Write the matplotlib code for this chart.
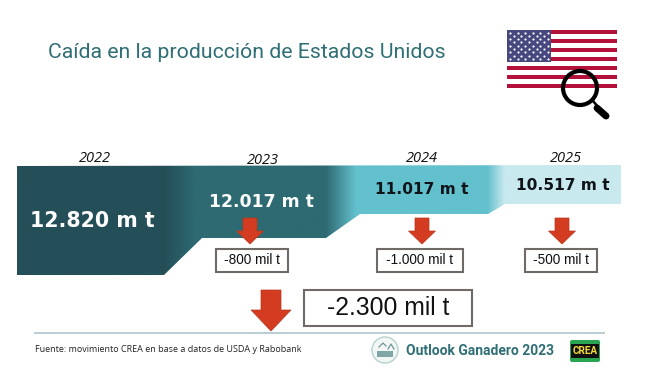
import numpy as np
import matplotlib
matplotlib.use("Agg")
import matplotlib.pyplot as plt
from matplotlib.colors import to_rgb
from matplotlib.patches import Polygon, Rectangle, Circle, FancyBboxPatch

# --- content ---
title = "Caída en la producción de Estados Unidos"
years = ["2022", "2023", "2024", "2025"]
production = ["12.820 m t", "12.017 m t", "11.017 m t", "10.517 m t"]
changes = ["-800 mil t", "-1.000 mil t", "-500 mil t"]
total_change = "-2.300 mil t"
source = "Fuente: movimiento CREA en base a datos de USDA y Rabobank"
brand = "Outlook Ganadero 2023"
logo = "CREA"

# --- layout (pixels of the infographic) ---
W, H = 658, 385
TEAL = "#2f6f75"
RED = "#d33c20"
year_xy = [(95, 158), (263, 160), (422, 159), (566, 159)]
prod_xy = [(92, 221), (261, 202), (422, 190), (563, 185)]
prod_col = ["white", "white", "#101418", "#101418"]
prod_size = [14.8, 12.4, 11.1, 11.1]
band_outline = [(17, 166), (621, 165), (621, 204), (505, 204), (488, 214), (360, 214),
                (326, 238), (202, 238), (164, 275), (17, 275)]
grad_stops = [(17, "#254f58"), (165, "#254f58"), (195, "#2e6a72"), (326, "#2e6a72"),
              (356, "#63c0cd"), (488, "#63c0cd"), (505, "#c8e9ed"), (621, "#c8e9ed")]
small_arrows = [250, 422, 562]
box_spans = [(216, 288), (377, 463), (525, 597)]

fig = plt.figure(figsize=(W / 100, H / 100), dpi=100, facecolor="white")
ax = fig.add_axes([0, 0, 1, 1])
ax.axis("off")

# Gradient band clipped to the stepped outline
xs = np.arange(17, 622)
px = [s[0] for s in grad_stops]
rgb = np.array([to_rgb(s[1]) for s in grad_stops])
grad = np.stack([np.interp(xs, px, rgb[:, i]) for i in range(3)], axis=1)[None, :, :]
im = ax.imshow(grad, extent=(17, 621, 276, 165), aspect="auto", interpolation="bilinear", zorder=1)
clip = Polygon(band_outline, closed=True, transform=ax.transData, fc="none", ec="none")
ax.add_patch(clip)
im.set_clip_path(clip)


def arrow(cx, top, neck, tip, half_shaft, half_head):
    pts = [(cx - half_shaft, top), (cx + half_shaft, top), (cx + half_shaft, neck),
           (cx + half_head, neck), (cx, tip), (cx - half_head, neck), (cx - half_shaft, neck)]
    ax.add_patch(Polygon(pts, closed=True, fc=RED, ec="#b8361d", lw=0.5, zorder=3))


def box(x0, x1, y0, y1, lw):
    ax.add_patch(Rectangle((x0, y0), x1 - x0, y1 - y0, fc="white", ec="#6f6a66", lw=lw, zorder=3))


# Title
ax.text(48, 53, title, fontsize=15.3, color=TEAL, family="Roboto", va="center", ha="left", zorder=5)

# Years and production labels
for yr, (x, y) in zip(years, year_xy):
    ax.text(x, y, yr, fontsize=10.5, style="italic", family="Open Sans", color="#111111",
            ha="center", va="center", zorder=5)
for lab, (x, y), c, s in zip(production, prod_xy, prod_col, prod_size):
    ax.text(x, y, lab, fontsize=s, weight="bold", family="DejaVu Sans", color=c,
            ha="center", va="center", zorder=5)

# Yearly changes
for cx, (x0, x1), lab in zip(small_arrows, box_spans, changes):
    arrow(cx, 218, 231, 244, 7, 13.5)
    box(x0, x1, 249, 272, 1.5)
    ax.text((x0 + x1) / 2, 260.5, lab, fontsize=9.8, family="Liberation Sans", color="#111111",
            ha="center", va="center", zorder=5)

# Total change
arrow(271, 290, 310, 331, 10, 20)
box(304, 472, 290, 326, 1.5)
ax.text(388, 308, total_change, fontsize=17.8, family="Liberation Sans", color="#111111",
        ha="center", va="center", zorder=5)

# Footer
ax.plot([35, 604], [332.5, 332.5], color="#b9ced3", lw=1.4, zorder=2)
ax.text(35, 349, source, fontsize=6.45, family="Open Sans", color="#222222", ha="left", va="center", zorder=5)
ax.add_patch(Circle((385, 350), 13, fc="#f2f7f6", ec="#b5d2cd", lw=1.0, zorder=3))
ax.add_patch(Rectangle((377, 351), 16, 6, fc="#7fa7a6", ec="none", zorder=4))
ax.plot([379, 383, 386], [347, 343, 346], color="#6f9695", lw=0.9, zorder=4)
ax.plot([388, 391, 394], [349, 344, 349], color="#6f9695", lw=0.9, zorder=4)
ax.text(406, 351, brand, fontsize=10.0, weight="bold", family="Roboto", color=TEAL, ha="left", va="center", zorder=5)
ax.add_patch(FancyBboxPatch((570, 340), 30, 22, boxstyle="round,pad=0,rounding_size=2", fc="#2aa552", ec="none", zorder=3))
ax.add_patch(Rectangle((571, 344), 28, 14, fc="#111111", ec="none", zorder=4))
ax.text(585, 351, logo, fontsize=7.2, weight="bold", family="Roboto", color="#f4dc3a", ha="center", va="center", zorder=5)

# Flag
for i in range(7):
    ax.add_patch(Rectangle((507, 30 + 9 * i), 110, 4.4, fc="#b3113a", ec="none", zorder=2))
ax.add_patch(Rectangle((507, 30), 44, 31.5, fc="#46487f", ec="none", zorder=3))
star_x, star_y = [], []
for r in range(9):
    n = 6 if r % 2 == 0 else 5
    off = 0 if r % 2 == 0 else 3.8
    for c in range(n):
        star_x.append(510 + off + 7.6 * c)
        star_y.append(32.5 + 3.3 * r)
ax.scatter(star_x, star_y, s=2.5, c="white", linewidths=0, zorder=4)

# Magnifier
ax.add_patch(Circle((580, 88), 17, fc="none", ec="black", lw=3, zorder=4))
ax.plot([593, 606], [101, 116], color="black", lw=1.8, zorder=4)
ax.plot([597, 606], [108, 116], color="black", lw=5, solid_capstyle="round", zorder=4)

ax.set_xlim(0, W)
ax.set_ylim(H, 0)
fig.savefig("out.png", dpi=100, facecolor="white")
